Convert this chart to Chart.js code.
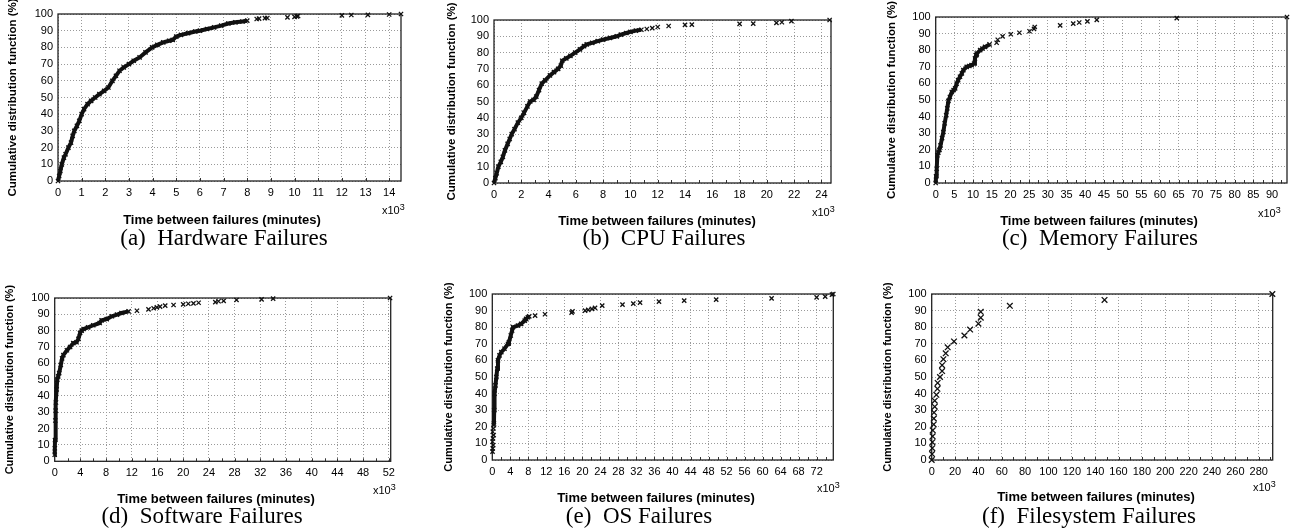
<!DOCTYPE html>
<html>
<head>
<meta charset="utf-8">
<script src="https://cdn.jsdelivr.net/npm/chart.js@4.4.0/dist/chart.umd.min.js"></script>
<style>
body{margin:0;background:#fff;width:1303px;height:531px;position:relative;overflow:hidden}
.box{position:absolute}
.cap{position:absolute;font-family:'Liberation Serif','Times New Roman',serif;font-size:23px;white-space:pre;transform:translate(-50%,-50%);color:#000;line-height:1}
</style>
</head>
<body>
<script>
// values, x in thousands of minutes, y in %
// (a) hardware
var hwX = [0,0.05,0.1,0.16,0.25,0.32,0.44,0.55,0.62,0.69,0.8,0.9,1.0,1.1,1.25,1.4,1.57,1.75,1.95,2.13,2.3,2.45,2.6,2.78,3.0,3.2,3.45,3.7,3.98,4.2,4.45,4.7,4.85,5.0,5.2,5.5,5.8,6.0,6.3,6.6,6.9,7.2,7.5,7.8,8.0];
var hwY = [0,3,6,10,14,16,20,23,27,30,33,36,40,43,46,48,50,52,54,56,60,63,66,68,70,72,74,77,80,81.5,83,84,84.5,86.5,87.5,88.5,89.5,90,91,92,93,94.3,95,95.5,96];
var hwTailX = [8.4,8.5,8.75,8.85,9.7,10.0,10.1,10.15,12.0,12.4,13.1,14.0,14.5];
var hwTailY = [97,97.2,97.5,97.6,98,98.3,98.6,98.8,99.2,99.4,99.5,99.7,100];
// (b) cpu
var cpuX = [0,0.1,0.2,0.32,0.5,0.65,0.8,1.0,1.15,1.3,1.5,1.75,2.0,2.2,2.45,2.65,2.9,3.1,3.3,3.5,3.75,4.1,4.4,4.7,4.9,5.0,5.3,5.6,5.95,6.3,6.6,6.8,7.2,7.6,8.0,8.5,9.0,9.3,9.7,10.0,10.4,10.8];
var cpuY = [0,3,6,10,13,16,20,24,27,30,33,37,40,43,47,50,51,53,57,61,63,66,68,70,72,75,76.5,78,80,82,84,85,86,87,88,89,90,91,92,92.7,93.5,94];
var cpuTailX = [11.2,11.6,12.0,12.8,14.0,14.5,18.0,19.0,20.7,21.1,21.8,24.6];
var cpuTailY = [94.5,95,95.7,96.3,97,97.2,97.6,97.8,98.2,98.6,99.3,100];
// (c) memory
var memX = [0,0.1,0.27,0.45,0.7,1.0,1.3,1.7,2.05,2.4,2.8,3.1,3.4,3.8,4.3,4.8,5.2,5.6,6.0,6.5,7.0,7.4,8.3,9.0,9.6,10.3,10.5,10.8,11.0,11.9,12.5,13.2,14.4];
var memY = [0,4,8.6,16.7,18.3,20,22.7,27,30.7,36,40.8,45,49.5,51.8,54.8,56,57,59.8,62,64,66,68,70,70.5,71,72,75,77,78,80,81,82,83.5];
var memTailX = [16.3,16.6,17.9,20.1,22.4,25.1,26.3,26.5,33.3,36.8,38.4,40.6,43.1,64.5,94];
var memTailY = [84.5,86.3,88.3,89.6,90.5,91.4,92.8,94,95,96,96.7,97.4,98.3,99.3,100];
// (d) software
var swX = [0,0.02,0.05,0.1,0.15,0.2,0.3,0.4,0.55,0.7,0.95,1.15,1.35,1.9,2.4,2.9,3.4,3.7,3.95,4.2,4.5,5.2,6.0,7.0,7.3,8.1,8.9,9.7,10.4,11.5];
var swY = [4,8,13,25,31,36,44,50,52,54,59,63,65,68,70,72.4,72.9,75,78.6,80,81,82,83.3,84.7,86.3,87.1,88.8,89.8,90.8,91.8];
var swTailX = [12.8,14.6,15.4,15.9,16.4,17.2,18.5,20.0,20.8,21.6,22.4,25.0,25.5,26.3,28.3,32.2,34.0,52.2];
var swTailY = [92.2,93,93.7,94.3,94.7,95.3,95.7,96.1,96.5,96.7,97.1,97.5,98,98.2,98.8,99.2,99.6,100];
// (e) os
var osLowX = [0.05,0.1,0.2,0.05,0.15,0.3,0.1,0.25,0.35];
var osLowY = [5,7,9,11,13,15,17,19,21];
var osX = [0.37,0.42,0.5,0.7,0.9,1.1,1.26,1.6,2.0,2.7,3.5,3.7,4.1,4.4,4.6,5.7,6.4,7.2,7.5,7.9,8.2];
var osY = [22,30,40,45,50,55,60,63,65,67,70,71,75,78,80,81,82,84,85,86,86.5];
var osTailX = [9.5,11.7,17.6,17.8,20.6,21.3,22.1,22.8,24.4,28.9,31.3,32.8,37.0,42.6,49.7,62.0,72.0,73.9,75.4,75.7];
var osTailY = [87,87.8,88.8,89.5,90,90.4,91,91.6,93,93.6,94.2,94.8,95.4,96,96.6,97.4,98,98.4,99.6,100];
// (f) filesystem
var fsX = [0,0.3,0.5,0.6,0.8,0.9,1.7,1.8,2.0,2.6,2.6,4.0,4.9,5.1,7.1,8.9,8.9,10,12,13.7,19.1,28,32.9,40,42,42,66.9,148,291.7];
var fsY = [0,3.6,7.1,10.7,14.3,17.9,21.4,25,28.6,32.1,35.7,39.3,42.9,46.4,50,53.6,57.1,60.7,64.3,67.9,71.4,75,78.6,82.1,85.7,89.3,92.9,96.4,100];

var captions = ['(a)  Hardware Failures','(b)  CPU Failures','(c)  Memory Failures','(d)  Software Failures','(e)  OS Failures','(f)  Filesystem Failures'];
var xMax = [14.5, 24.7, 94, 52.3, 75.7, 292];
var xStep = [1, 2, 5, 4, 4, 20];

// layout (page pixels)
var panels = [
  {cx:0,   cy:0,   w:430, h:232, area:[58,14,401,181],   yt:13,    xt:[222,220],  mult:[382,214],  cap:[224,237], minor:false, yf:11.5},
  {cx:430, cy:0,   w:430, h:232, area:[494,20,831,183],  yt:451.7, xt:[657,221],  mult:[812,216],  cap:[664,237], minor:true, yf:11.5},
  {cx:862, cy:0,   w:441, h:232, area:[935.7,17,1287,183], yt:891.7, xt:[1099,221], mult:[1258,216.5], cap:[1100,237], minor:true, yf:11.5},
  {cx:0,   cy:262, w:430, h:250, area:[54.7,298,390.7,461.3], yt:10, xt:[216,499], mult:[373,493.5], cap:[202,515], minor:true, yf:11},
  {cx:430, cy:262, w:430, h:250, area:[492.3,294,833.3,460], yt:449, xt:[656,498], mult:[817,492], cap:[639,515], minor:true, yf:11},
  {cx:862, cy:262, w:441, h:250, area:[931.7,294,1272.7,460], yt:888, xt:[1096,497], mult:[1253,491], cap:[1089,515], minor:true, yf:11}
];

var series = [
  [[hwX,hwY,true],[hwTailX,hwTailY,false]],
  [[cpuX,cpuY,true],[cpuTailX,cpuTailY,false]],
  [[memX,memY,true],[memTailX,memTailY,false]],
  [[swX,swY,true],[swTailX,swTailY,false]],
  [[osLowX,osLowY,false],[osX,osY,true],[osTailX,osTailY,false]],
  [[fsX,fsY,false]]
];

var FONT = '"Liberation Sans", Arial, sans-serif';

function pts(xs, ys){ return xs.map(function(x,i){ return {x:x, y:ys[i]}; }); }

panels.forEach(function(p, k){
  var box = document.createElement('div');
  box.className = 'box';
  box.style.left = p.cx + 'px'; box.style.top = p.cy + 'px';
  box.style.width = p.w + 'px'; box.style.height = p.h + 'px';
  document.body.appendChild(box);
  var cv = document.createElement('canvas');
  box.appendChild(cv);

  var cap = document.createElement('div');
  cap.className = 'cap';
  cap.textContent = captions[k];
  cap.style.left = p.cap[0] + 'px'; cap.style.top = p.cap[1] + 'px';
  document.body.appendChild(cap);

  var L = p.area[0], T = p.area[1], R = p.area[2], B = p.area[3];
  var step = xStep[k];

  var sets = series[k].map(function(s){
    return {
      data: pts(s[0], s[1]),
      showLine: s[2],
      borderColor: '#111',
      borderWidth: 4,
      pointStyle: 'crossRot',
      pointRadius: k == 5 ? 4 : 3,
      pointBorderWidth: 1.3,
      pointBorderColor: '#111',
      backgroundColor: '#111',
      tension: 0,
      clip: false
    };
  });

  var decor = {
    id: 'decor' + k,
    beforeDatasetsDraw: function(chart){
      var ctx = chart.ctx, a = chart.chartArea, xs = chart.scales.x;
      ctx.save();
      // small ticks on the bottom axis
      ctx.strokeStyle = '#333'; ctx.lineWidth = 1;
      var m = p.minor ? step / 2 : step;
      for (var v = m; v < xMax[k]; v += m) {
        var px = Math.round(xs.getPixelForValue(v)) + 0.5;
        ctx.beginPath(); ctx.moveTo(px, a.bottom); ctx.lineTo(px, a.bottom - 3); ctx.stroke();
      }
      ctx.strokeStyle = '#222'; ctx.lineWidth = 1.3;
      ctx.strokeRect(a.left, a.top, a.right - a.left, a.bottom - a.top);
      ctx.restore();
    },
    afterDraw: function(chart){
      var ctx = chart.ctx;
      ctx.save();
      ctx.fillStyle = '#000';
      ctx.textAlign = 'center'; ctx.textBaseline = 'middle';
      ctx.font = 'bold 13px ' + FONT;
      ctx.fillText('Time between failures (minutes)', p.xt[0] - p.cx, p.xt[1] - p.cy);
      ctx.textAlign = 'left'; ctx.textBaseline = 'alphabetic';
      ctx.font = '11px ' + FONT;
      var mx = p.mult[0] - p.cx, my = p.mult[1] - p.cy;
      ctx.fillText('x10', mx, my);
      var w = ctx.measureText('x10').width;
      ctx.font = '9px ' + FONT;
      ctx.fillText('3', mx + w, my - 4);
      ctx.translate(p.yt - p.cx, (T + B) / 2 - p.cy);
      ctx.rotate(-Math.PI / 2);
      ctx.textAlign = 'center'; ctx.textBaseline = 'middle';
      ctx.font = 'bold ' + p.yf + 'px ' + FONT;
      ctx.fillText('Cumulative distribution function (%)', 0, 0);
      ctx.restore();
    }
  };

  new Chart(cv, {
    type: 'scatter',
    data: { datasets: sets },
    plugins: [decor],
    options: {
      responsive: true,
      maintainAspectRatio: false,
      animation: false,
      events: [],
      layout: { padding: { left: 0, top: T - p.cy, right: p.cx + p.w - R, bottom: 0 } },
      plugins: { legend: { display: false }, tooltip: { enabled: false } },
      scales: {
        x: {
          type: 'linear', min: 0, max: xMax[k],
          afterFit: function(s){ s.height = p.cy + p.h - B; },
          ticks: { stepSize: step, includeBounds: false, autoSkip: false, maxRotation: 0, padding: 5, color: '#000',
                   font: { family: FONT, size: 11 } },
          grid: { color: '#9a9a9a', lineWidth: 1, drawTicks: false },
          border: { display: false, dash: [1, 2] }
        },
        y: {
          min: 0, max: 100,
          afterFit: function(s){ s.width = L - p.cx; },
          ticks: { stepSize: 10, padding: 5, color: '#000',
                   font: { family: FONT, size: 11 } },
          grid: { color: '#9a9a9a', lineWidth: 1, drawTicks: false },
          border: { display: false, dash: [1, 2] }
        }
      }
    }
  });
});
</script>
</body>
</html>
